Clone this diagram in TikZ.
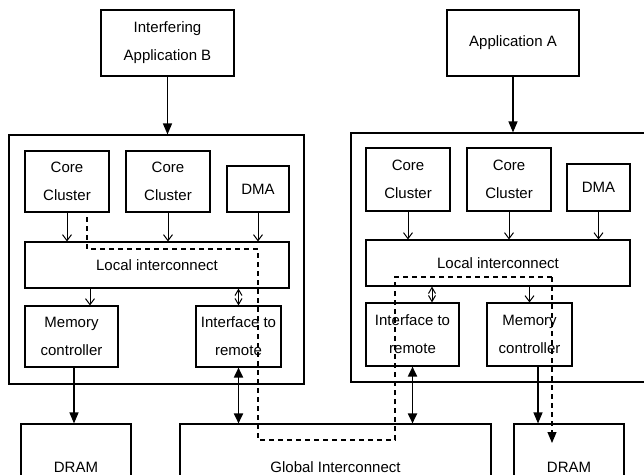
\documentclass[tikz,border=0pt]{standalone}
\usepackage{fontspec}
\setmainfont{Liberation Sans}
\usetikzlibrary{arrows.meta}
\tikzset{
	box/.style={draw, line width=1.1pt, inner sep=0pt, align=center, font=\fontsize{15}{28}\selectfont},
	link/.style={line width=1pt, -{Straight Barb[length=6pt,width=9pt]}},
	biglink/.style={line width=1.2pt, -{Triangle[length=11pt,width=9pt]}},
	duplex/.style={line width=1.8pt, {Triangle[length=10pt,width=9pt]}-{Triangle[length=10pt,width=9pt]}},
	smallduplex/.style={line width=1pt, {Straight Barb[length=6pt,width=7pt]}-{Straight Barb[length=6pt,width=7pt]}},
	path/.style={line width=1.1pt, dash pattern=on 5pt off 4pt}
}
\begin{document}
\begin{tikzpicture}[x=1pt,y=-1pt]
			\useasboundingbox (0,0) rectangle (644,474);
			% applications
			\node[box, minimum width=133, minimum height=66] (appB) at (167.5,43) {Interfering\\Application B};
			\node[box, minimum width=132, minimum height=66] (appA) at (513,43) {Application A};
			% clusters
			\node[box, minimum width=295, minimum height=249] (clB) at (156.5,259.5) {};
			\node[box, minimum width=299, minimum height=249] (clA) at (500.5,257.5) {};
			\node[box, minimum width=84, minimum height=61] (ccB1) at (67,181.5) {Core\\Cluster};
			\node[box, minimum width=84, minimum height=61] (ccB2) at (168,181.5) {Core\\Cluster};
			\node[box, minimum width=62, minimum height=46] (dmaB) at (258,189) {DMA};
			\node[box, minimum width=264, minimum height=46] (liB) at (157,265) {Local interconnect};
			\node[box, minimum width=93, minimum height=61] (mcB) at (71.5,336.5) {Memory\\controller};
			\node[box, minimum width=85, minimum height=61] (ifB) at (238.5,336.5) {Interface to\\remote};
			\node[box, minimum width=84, minimum height=63] (ccA1) at (408,179.5) {Core\\Cluster};
			\node[box, minimum width=84, minimum height=63] (ccA2) at (509,179.5) {Core\\Cluster};
			\node[box, minimum width=63, minimum height=47] (dmaA) at (598.5,187.5) {DMA};
			\node[box, minimum width=264, minimum height=46] (liA) at (498,263) {Local interconnect};
			\node[box, minimum width=93, minimum height=63] (ifA) at (412.5,334.5) {Interface to\\remote};
			\node[box, minimum width=85, minimum height=63] (mcA) at (529.5,334.5) {Memory\\controller};
			% memory and global interconnect
			\node[box, minimum width=110, minimum height=86] (dramB) at (76,467) {DRAM};
			\node[box, minimum width=311, minimum height=86] (glob) at (335.5,467) {Global Interconnect};
			\node[box, minimum width=110, minimum height=86] (dramA) at (569,467) {DRAM};
			% connectors
			\draw[biglink] (appB.south) -- (appB |- clB.north);
			\draw[biglink] (appA.south) -- (appA |- clA.north);
			\foreach \src/\dst in {ccB1/liB, ccB2/liB, dmaB/liB, ccA1/liA, ccA2/liA, dmaA/liA}
				\draw[link] (\src.south) -- (\src |- \dst.north);
			\draw[link] ([xshift=18.5pt]liB.south -| mcB) -- ([xshift=18.5pt]mcB.north);
			\draw[link] (liA.south -| mcA) -- (mcA.north);
			\draw[smallduplex] (liB.south -| ifB) -- (ifB.north);
			\draw[smallduplex] ([xshift=19.5pt]liA.south -| ifA) -- ([xshift=19.5pt]ifA.north);
			\draw[biglink] ([xshift=2.5pt]mcB.south) -- ([xshift=2.5pt]mcB.south |- dramB.north);
			\draw[biglink] ([xshift=8.5pt]mcA.south) -- ([xshift=8.5pt]mcA.south |- dramA.north);
			\draw[duplex] (ifB.south) -- (ifB.south |- glob.north);
			\draw[duplex] (ifA.south) -- (ifA.south |- glob.north);
			% interference path
			\coordinate (d1) at (87,217);
			\coordinate (d2) at (258,249);
			\coordinate (d3) at (395,440);
			\coordinate (d4) at (552,277);
			\coordinate (d5) at (552,443);
			\draw[path] (d1) |- (d2) |- (d3) |- (d4);
			\draw[path, -{Triangle[length=11pt,width=9pt]}] (d4) -- (d5);
		\end{tikzpicture}
\end{document}
